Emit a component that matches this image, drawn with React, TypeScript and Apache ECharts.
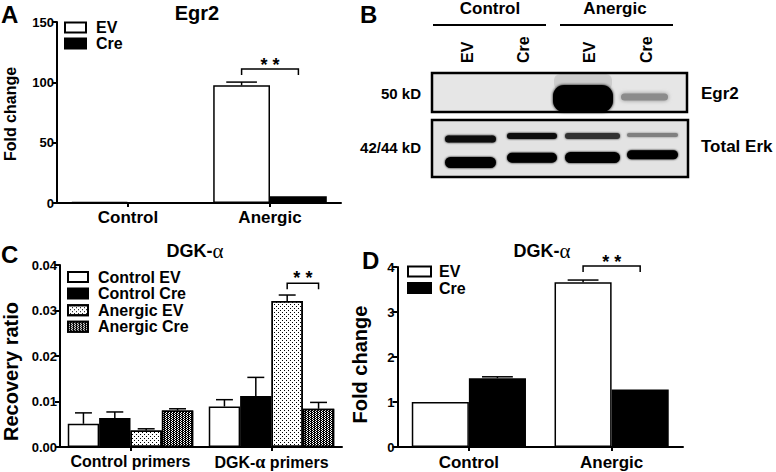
import React, { useEffect, useRef } from 'react';
import * as echarts from 'echarts';

const FONT = '"Liberation Sans", Arial, Helvetica, sans-serif';
const SERIF = '"Liberation Serif", "DejaVu Serif", serif';

// ---- Panel A: Egr2 fold change ----
const egr2Categories = ['Control', 'Anergic'];
const egr2EV = [1.0, 97.5];
const egr2EVErr = [0, 2.7];
const egr2Cre = [0.5, 5.6];
const egr2CreErr = [0, 0];
const egr2Ticks = [0, 50, 100, 150];
const egr2SigLevel = 111;

// ---- Panel C: DGK-alpha recovery ratio ----
const dgkCategories = ['Control primers', 'DGK-α primers'];
const dgkSeriesNames = ['Control EV', 'Control Cre', 'Anergic EV', 'Anergic Cre'];
const dgkControlEV = [0.0051, 0.0089];
const dgkControlEVErr = [0.0024, 0.0015];
const dgkControlCre = [0.0064, 0.0112];
const dgkControlCreErr = [0.0013, 0.0041];
const dgkAnergicEV = [0.0036, 0.0321];
const dgkAnergicEVErr = [0.0004, 0.0013];
const dgkAnergicCre = [0.008, 0.0084];
const dgkAnergicCreErr = [0.0004, 0.0014];
const dgkTicks = [0, 0.01, 0.02, 0.03, 0.04];
const dgkSigLevel = 0.036;

// ---- Panel D: DGK-alpha fold change ----
const foldCategories = ['Control', 'Anergic'];
const foldEV = [1.0, 3.66];
const foldEVErr = [0, 0.05];
const foldCre = [1.53, 1.28];
const foldCreErr = [0.03, 0.01];
const foldTicks = [0, 1, 2, 3, 4];
const foldSigLevel = 4.02;

// ---- Panel B: western blot labels ----
const blotGroups = ['Control', 'Anergic'];
const blotLanes = ['EV', 'Cre', 'EV', 'Cre'];
const blotMarkers = ['50 kD', '42/44 kD'];
const blotProteins = ['Egr2', 'Total Erk'];

const BORDER = 1.5;
const whiteStyle = { color: '#fff', borderColor: '#000', borderWidth: BORDER };
const blackStyle = { color: '#000', borderColor: '#000', borderWidth: BORDER };
const dottedStyle = {
  color: '#fff',
  borderColor: '#000',
  borderWidth: BORDER,
  decal: { symbol: 'rect', symbolSize: 1, color: '#000', dashArrayX: [[1, 3], [0, 2, 1, 1]], dashArrayY: [1, 1] },
};
const checkStyle = {
  color: '#000',
  borderColor: '#000',
  borderWidth: BORDER,
  decal: { symbol: 'rect', symbolSize: 1, color: '#fff', dashArrayX: [[1, 2], [0, 1, 1, 1]], dashArrayY: [1, 0] },
};

const greekRich = {
  g: { fontFamily: SERIF, fontSize: 18, color: '#000' },
};

function catAxis(gridIndex: number, data: string[], fontSize: number, margin: number) {
  return {
    type: 'category',
    gridIndex,
    data,
    axisLine: { show: true, lineStyle: { color: '#000', width: 2 } },
    axisTick: { show: true, alignWithLabel: true, length: 4, lineStyle: { color: '#000', width: 2 } },
    axisLabel: {
      color: '#000',
      fontFamily: FONT,
      fontWeight: 'bold',
      fontSize,
      margin,
      interval: 0,
      formatter: (v: string) => v.replace('α', '{g|α}'),
      rich: greekRich,
    },
    splitLine: { show: false },
  };
}

function valAxis(
  gridIndex: number,
  ticks: number[],
  name: string,
  nameSize: number,
  nameGap: number,
  shift: number,
  fmt: (v: number) => string
) {
  return {
    type: 'value',
    gridIndex,
    min: ticks[0],
    max: ticks[ticks.length - 1],
    interval: ticks[1] - ticks[0],
    axisLine: { show: true, lineStyle: { color: '#000', width: 2 } },
    axisTick: { show: true, length: 5, lineStyle: { color: '#000', width: 2 } },
    axisLabel: { color: '#000', fontFamily: FONT, fontWeight: 'bold', fontSize: 13, margin: 3, formatter: fmt },
    splitLine: { show: false },
    name,
    nameLocation: 'middle',
    nameRotate: 90,
    nameGap,
    nameTextStyle: {
      color: '#000',
      fontFamily: FONT,
      fontWeight: 'bold',
      fontSize: nameSize,
      padding: [0, shift, 0, 0],
    },
  };
}

function barSeries(name: string, axisIndex: number, data: number[], itemStyle: any, gapPct: string) {
  return {
    type: 'bar',
    name,
    xAxisIndex: axisIndex,
    yAxisIndex: axisIndex,
    data,
    barGap: '0%',
    barCategoryGap: gapPct,
    itemStyle,
    emphasis: { disabled: true },
    z: 2,
  };
}

function errorSeries(
  name: string,
  axisIndex: number,
  means: number[],
  errs: number[],
  barIndex: number,
  barCount: number,
  gapRatio: number
) {
  return {
    type: 'custom',
    name,
    xAxisIndex: axisIndex,
    yAxisIndex: axisIndex,
    silent: true,
    z: 3,
    data: means.map((m, i) => [i, m, m + errs[i]]),
    renderItem: (params: any, api: any) => {
      const cat = api.value(0);
      const base = api.coord([cat, api.value(1)]);
      const top = api.coord([cat, api.value(2)]);
      if (Math.abs(base[1] - top[1]) < 0.5) return { type: 'group', children: [] };
      const band = api.size([1, 0])[0];
      const bw = (band * (1 - gapRatio)) / barCount;
      const x = base[0] - (band * (1 - gapRatio)) / 2 + bw * (barIndex + 0.5);
      const half = bw * 0.27;
      const st = { stroke: '#000', lineWidth: 1.5 };
      return {
        type: 'group',
        children: [
          { type: 'line', shape: { x1: x, y1: base[1], x2: x, y2: top[1] }, style: st },
          { type: 'line', shape: { x1: x - half, y1: top[1], x2: x + half, y2: top[1] }, style: st },
        ],
      };
    },
  };
}

function bracketSeries(
  name: string,
  axisIndex: number,
  cat: number,
  level: number,
  fromBar: number,
  toBar: number,
  barCount: number,
  gapRatio: number,
  textLift: number
) {
  return {
    type: 'custom',
    name,
    xAxisIndex: axisIndex,
    yAxisIndex: axisIndex,
    silent: true,
    clip: false,
    z: 4,
    data: [[cat, level]],
    renderItem: (params: any, api: any) => {
      const p = api.coord([api.value(0), api.value(1)]);
      const band = api.size([1, 0])[0];
      const bw = (band * (1 - gapRatio)) / barCount;
      const start = p[0] - (band * (1 - gapRatio)) / 2;
      const x1 = start + bw * (fromBar + 0.5);
      const x2 = start + bw * (toBar + 0.5);
      return {
        type: 'group',
        children: [
          {
            type: 'polyline',
            shape: { points: [[x1, p[1] + 6], [x1, p[1]], [x2, p[1]], [x2, p[1] + 6]] },
            style: { stroke: '#000', lineWidth: 1.5, fill: null },
          },
          {
            type: 'text',
            x: (x1 + x2) / 2,
            y: p[1] - textLift,
            style: {
              text: '* *',
              fill: '#000',
              font: `bold 18px ${FONT}`,
              align: 'center',
              verticalAlign: 'middle',
              textAlign: 'center',
              textVerticalAlign: 'middle',
            },
          },
        ],
      };
    },
  };
}

function legend(data: string[], left: number, top: number, w: number, h: number, lineHeight: number, gap: number, pad: number) {
  return {
    data,
    left,
    top,
    orient: 'vertical',
    icon: 'rect',
    itemWidth: w,
    itemHeight: h,
    itemGap: gap,
    padding: 0,
    selectedMode: false,
    textStyle: {
      color: '#000',
      fontFamily: FONT,
      fontWeight: 'bold',
      fontSize: 16,
      lineHeight,
      padding: [0, 0, 0, pad],
    },
  };
}

function txt(text: string, x: number, y: number, size: number, align = 'left', rotation = 0, valign = 'middle') {
  return {
    type: 'text',
    x,
    y,
    rotation,
    silent: true,
    style: {
      text,
      fill: '#000',
      font: `bold ${size}px ${FONT}`,
      align,
      verticalAlign: valign,
      textAlign: align,
      textVerticalAlign: valign,
    },
  };
}

function dgkTitle(cx: number, y: number) {
  return {
    type: 'text',
    x: cx,
    y,
    silent: true,
    style: {
      text: '{a|DGK-}{b|α}',
      fill: '#000',
      align: 'center',
      verticalAlign: 'middle',
      textAlign: 'center',
      textVerticalAlign: 'middle',
      rich: {
        a: { fontFamily: FONT, fontWeight: 'bold', fontSize: 18, fill: '#000' },
        b: { fontFamily: SERIF, fontSize: 21, fill: '#000' },
      },
    },
  };
}

function band(x0: number, x1: number, cy: number, h: number, fill: string, blur = 2) {
  return {
    type: 'rect',
    silent: true,
    shape: { x: x0, y: cy - h / 2, width: x1 - x0, height: h, r: h / 2 },
    style: { fill, shadowBlur: blur, shadowColor: fill },
  };
}

function blotGraphics() {
  const els: any[] = [];
  els.push(txt(blotGroups[0], 490, 8, 17, 'center'));
  els.push(txt(blotGroups[1], 615, 8, 17, 'center'));
  els.push({ type: 'line', silent: true, shape: { x1: 433, y1: 25, x2: 546, y2: 25 }, style: { stroke: '#000', lineWidth: 2 } });
  els.push({ type: 'line', silent: true, shape: { x1: 560, y1: 25, x2: 673, y2: 25 }, style: { stroke: '#000', lineWidth: 2 } });
  const laneX = [467, 523, 589, 646];
  blotLanes.forEach((l, i) => els.push(txt(l, laneX[i], 63, 16, 'left', Math.PI / 2)));
  els.push(txt(blotMarkers[0], 421, 93, 15, 'right'));
  els.push(txt(blotMarkers[1], 421, 147.5, 15, 'right'));
  els.push(txt(blotProteins[0], 701, 93, 17, 'left'));
  els.push(txt(blotProteins[1], 701, 146, 17, 'left'));

  // Egr2 blot
  els.push({ type: 'rect', silent: true, shape: { x: 432, y: 73, width: 255, height: 39 }, style: { fill: '#e6e6e6', stroke: 'none' } });
  els.push({ type: 'rect', silent: true, shape: { x: 554, y: 74, width: 58, height: 16, r: 6 }, style: { fill: 'rgba(0,0,0,0.10)', shadowBlur: 4, shadowColor: 'rgba(0,0,0,0.12)' } });
  els.push({ type: 'rect', silent: true, shape: { x: 553, y: 85, width: 60, height: 27, r: 11 }, style: { fill: '#000', shadowBlur: 3, shadowColor: '#000' } });
  els.push(band(621, 668, 97, 7, '#8c8c8c', 4));
  els.push({ type: 'rect', silent: true, shape: { x: 432, y: 73, width: 255, height: 39 }, style: { fill: 'none', stroke: '#000', lineWidth: 2.5 } });

  // Total Erk blot
  els.push({ type: 'rect', silent: true, shape: { x: 432, y: 120, width: 256, height: 57 }, style: { fill: '#e3e3e3', stroke: 'none' } });
  const lanes = [[445, 496], [507, 557], [565, 620], [627, 678]];
  const upY = [139, 136, 136, 135];
  const upH = [7, 6, 6, 4];
  const upFill = ['#0a0a0a', '#111', '#333', '#808080'];
  const loY = [162.5, 157.7, 157.5, 154.7];
  const loH = [11, 10, 11, 9];
  lanes.forEach((ln, i) => {
    els.push(band(ln[0], ln[1], upY[i], upH[i], upFill[i]));
    els.push(band(ln[0], ln[1], loY[i], loH[i], '#000'));
  });
  els.push({ type: 'rect', silent: true, shape: { x: 432, y: 120, width: 256, height: 57 }, style: { fill: 'none', stroke: '#000', lineWidth: 2.5 } });
  return els;
}

function buildOption() {
  const gA = 0.2;
  const gC = 0.11;
  const gD = 0.2;
  const series: any[] = [
    // Panel A
    barSeries('EV', 0, egr2EV, whiteStyle, '20%'),
    barSeries('Cre', 0, egr2Cre, blackStyle, '20%'),
    errorSeries('A EV error', 0, egr2EV, egr2EVErr, 0, 2, gA),
    errorSeries('A Cre error', 0, egr2Cre, egr2CreErr, 1, 2, gA),
    bracketSeries('A significance', 0, 1, egr2SigLevel, 0, 1, 2, gA, 4),
    // Panel C
    barSeries(dgkSeriesNames[0], 1, dgkControlEV, whiteStyle, '11%'),
    barSeries(dgkSeriesNames[1], 1, dgkControlCre, blackStyle, '11%'),
    barSeries(dgkSeriesNames[2], 1, dgkAnergicEV, dottedStyle, '11%'),
    barSeries(dgkSeriesNames[3], 1, dgkAnergicCre, checkStyle, '11%'),
    errorSeries('C1 error', 1, dgkControlEV, dgkControlEVErr, 0, 4, gC),
    errorSeries('C2 error', 1, dgkControlCre, dgkControlCreErr, 1, 4, gC),
    errorSeries('C3 error', 1, dgkAnergicEV, dgkAnergicEVErr, 2, 4, gC),
    errorSeries('C4 error', 1, dgkAnergicCre, dgkAnergicCreErr, 3, 4, gC),
    bracketSeries('C significance', 1, 1, dgkSigLevel, 2, 3, 4, gC, 5),
    // Panel D
    barSeries('EV', 2, foldEV, whiteStyle, '20%'),
    barSeries('Cre', 2, foldCre, blackStyle, '20%'),
    errorSeries('D EV error', 2, foldEV, foldEVErr, 0, 2, gD),
    errorSeries('D Cre error', 2, foldCre, foldCreErr, 1, 2, gD),
    bracketSeries('D significance', 2, 1, foldSigLevel, 0, 1, 2, gD, 4),
  ];

  const yA = valAxis(0, egr2Ticks, '', 15, 41, 0, (v: number) => String(v));

  return {
    animation: false,
    backgroundColor: '#fff',
    textStyle: { fontFamily: FONT },
    grid: [
      { left: 57, top: 22, width: 284, height: 181 },
      { left: 57, top: 265, width: 285, height: 182 },
      { left: 397.5, top: 267, width: 285.5, height: 180 },
    ],
    xAxis: [
      catAxis(0, egr2Categories, 17, 6),
      catAxis(1, dgkCategories, 16, 6),
      catAxis(2, foldCategories, 17, 7),
    ],
    yAxis: [
      yA,
      valAxis(1, dgkTicks, 'Recovery ratio', 20, 39, 31, (v: number) => v.toFixed(2)),
      valAxis(2, foldTicks, 'Fold change', 20, 28, 15, (v: number) => String(v)),
    ],
    legend: [
      legend(['EV', 'Cre'], 64, 19.5, 21, 10, 14, 0, 5),
      legend(dgkSeriesNames, 67, 269, 20, 10, 14, 0.6, 5),
      legend(['EV', 'Cre'], 407, 263.5, 23, 10, 13, 0.5, 3),
    ],
    graphic: [
      txt('A', 1, 14, 24),
      txt('B', 360, 14, 24),
      txt('C', 1, 254, 24),
      txt('D', 362, 260, 24),
      txt('Egr2', 197, 13, 20, 'center'),
      txt('Fold change', 10, 114, 16, 'center', Math.PI / 2),
      dgkTitle(195, 251),
      dgkTitle(542, 251),
      ...blotGraphics(),
    ],
    series,
  };
}

export default function App() {
  const ref = useRef<HTMLDivElement>(null);
  useEffect(() => {
    if (!ref.current) return;
    const chart = echarts.init(ref.current, null, { renderer: 'svg' });
    chart.setOption(buildOption() as any);
    return () => chart.dispose();
  }, []);
  return (
    <div
      ref={ref}
      style={{ position: 'fixed', left: 0, top: 0, width: 776, height: 472, background: '#fff' }}
    />
  );
}
